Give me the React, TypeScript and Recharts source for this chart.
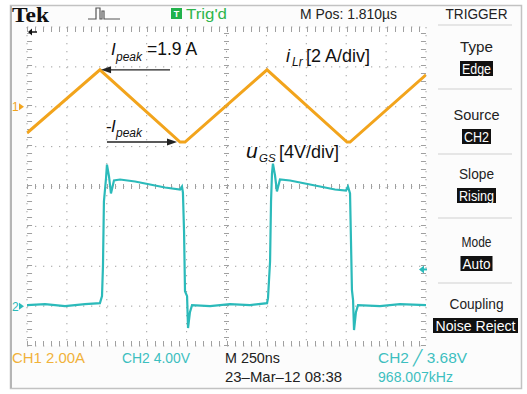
import React from 'react';
import { LineChart, Line, XAxis, YAxis, CartesianGrid, ReferenceLine } from 'recharts';

// ---- scope settings ----
const TIME_DOMAIN: [number, number] = [0, 2500]; // ns, 250 ns/div, 10 div
const CH1_DOMAIN: [number, number] = [-12, 4]; // A, 2 A/div
const CH2_DOMAIN: [number, number] = [-4, 28]; // V, 4 V/div
const CH2_TRIGGER_LEVEL = 3.68; // V

// ---- CH1: resonant inductor current iLr (A) ----
const iLrTime = [0, 457, 959, 990, 1504, 2005, 2024, 2500];
const iLrAmp = [-1.32, 1.85, -1.77, -1.77, 1.85, -1.77, -1.77, 1.6];

// ---- CH2: gate-source voltage uGS (V) ----
const uGsTime = [
  0, 113, 238, 363, 457, 470, 476, 482, 495, 501, 514, 526, 545, 583, 677, 771, 865, 959, 971,
  977, 984, 990, 1003, 1009, 1021, 1034, 1147, 1272, 1397, 1504, 1510, 1523, 1529, 1535, 1541,
  1554, 1566, 1585, 1648, 1742, 1836, 1930, 1999, 2011, 2024, 2030, 2036, 2043, 2049, 2061, 2074,
  2212, 2337, 2500,
];
const uGsVolt = [
  0.1, 0.2, 0.0, 0.2, 0.3, 1.0, 4.0, 10.5, 12.8, 14.2, 13.0, 11.3, 12.6, 12.7, 12.5, 12.2, 11.9,
  11.7, 12.0, 11.4, 7.5, 1.5, 1.0, -2.2, -0.6, 0.1, 0.0, 0.2, 0.1, 0.3, 0.8, 4.5, 10.5, 13.3, 14.3,
  13.1, 11.5, 12.7, 12.6, 12.3, 12.0, 11.7, 11.6, 12.0, 11.3, 6.5, 1.6, 0.6, -2.4, -0.6, 0.1, 0.0,
  0.2, 0.1,
];

// ---- annotation anchors (data units) ----
const IPEAK_ARROW_T: [number, number] = [896, 464];
const IPEAK_LEVEL = 1.85;
const NEG_IPEAK_ARROW_T: [number, number] = [501, 940];
const NEG_IPEAK_LEVEL = -1.77;

const ILR = iLrTime.map((t, i) => ({ t, v: iLrAmp[i] }));
const UGS = uGsTime.map((t, i) => ({ t, v: uGsVolt[i] }));

const W = 527;
const H = 394;
const ORANGE = '#F2A41C';
const CYAN = '#2BBABA';
const ORANGE_TXT = '#F1B23A';
const CYAN_TXT = '#3DBFC0';
const GRID = '#a0a0a0';
const SEP = '#cfcfcf';
const MONO = "'Liberation Sans Narrow', 'Liberation Sans', Arial, sans-serif";
const SANS = "'Liberation Sans', Arial, sans-serif";

const Arrow = (p: any) => {
  const { x1, y1, x2, y2 } = p;
  const dir = x2 >= x1 ? 1 : -1;
  return (
    <g>
      <line x1={x1} y1={y1} x2={x2 - dir * 6} y2={y2} stroke="#222" strokeWidth={1.4} />
      <polygon
        points={`${x2},${y2} ${x2 - dir * 10},${y2 - 3.5} ${x2 - dir * 10},${y2 + 3.5}`}
        fill="#222"
      />
    </g>
  );
};

const groundMarker = (label: string, color: string) => (p: any) => {
  const { x1, y1 } = p;
  return (
    <g>
      <text x={x1 - 15} y={y1 + 4.5} fill={color} fontSize={12} fontFamily={SANS}>
        {label}
      </text>
      <polygon points={`${x1 - 3},${y1} ${x1 - 8},${y1 - 3.5} ${x1 - 8},${y1 + 3.5}`} fill={color} />
    </g>
  );
};

const TriggerMarker = (p: any) => {
  const { x2, y1 } = p;
  return (
    <g>
      <line x1={x2 - 3} y1={y1} x2={x2 + 1} y2={y1} stroke={CYAN} strokeWidth={2} />
      <polygon points={`${x2 - 7},${y1} ${x2 - 2},${y1 - 4} ${x2 - 2},${y1 + 4}`} fill={CYAN} />
    </g>
  );
};

const TEXT_NONE = 'none';

function PanelItem({ title, value, y, boxW, titleW, valueW }: any) {
  const cx = 476.5;
  return (
    <g>
      <text x={cx} y={y} textAnchor="middle" fontSize={15} fontFamily={MONO} fill="#222"
        textLength={titleW} lengthAdjust="spacingAndGlyphs">{title}</text>
      <rect x={cx - boxW / 2} y={y + 9} width={boxW} height={15} fill="#111" />
      <text x={cx} y={y + 21.5} textAnchor="middle" fontSize={14} fontFamily={MONO} fill="#fff"
        textLength={valueW} lengthAdjust="spacingAndGlyphs">{value}</text>
    </g>
  );
}

export default function App() {
  return (
    <div style={{ position: 'fixed', left: 0, top: 0, width: W, height: H, background: '#fff' }}>
      <svg width={W} height={H} style={{ position: 'absolute', left: 0, top: 0 }}>
        <rect x={10.5} y={5.5} width={511} height={383} fill="#fcfcfc" stroke="#c2c2c2" strokeWidth={1.5} />
        <line x1={11} y1={6} x2={11} y2={388} stroke="#b5b5b5" strokeWidth={2} />
        <rect x={27} y={27} width={399} height={319} fill="#fff" />
        {/* header */}
        <text x={12} y={22} fontFamily="'Liberation Serif', 'DejaVu Serif', serif" fontWeight="bold"
          fontSize={21} fill="#111" textLength={37} lengthAdjust="spacingAndGlyphs">Tek</text>
        <path d="M88 19 H96 V8 H100 V19 H102 V11 H104 V19 H120" fill="none" stroke="#555" strokeWidth={1.2} />
        <rect x={171} y={8} width={11} height={11} fill="#22B24C" />
        <text x={176.5} y={17} textAnchor="middle" fontSize={9} fontWeight="bold" fill="#fff" fontFamily={SANS}>T</text>
        <text x={186} y={19} fontSize={15} fill="#2FB54C" fontFamily={MONO} textLength={41} lengthAdjust="spacingAndGlyphs">Trig'd</text>
        <text x={300} y={19} fontSize={14} fill="#222" fontFamily={MONO} textLength={97} lengthAdjust="spacingAndGlyphs">M Pos: 1.810µs</text>
        <text x={476.5} y={19} textAnchor="middle" fontSize={14} fill="#222" fontFamily={MONO} textLength={62} lengthAdjust="spacingAndGlyphs">TRIGGER</text>
        {/* right panel */}
        {[25, 89, 154, 218, 283].map((y) => (
          <line key={y} x1={438} x2={512} y1={y} y2={y} stroke={SEP} strokeWidth={1.2} />
        ))}
        <PanelItem title="Type" value="Edge" y={52} boxW={33} titleW={33} valueW={29} />
        <PanelItem title="Source" value="CH2" y={120} boxW={29} titleW={46} valueW={25} />
        <PanelItem title="Slope" value="Rising" y={179} boxW={39} titleW={35} valueW={35} />
        <PanelItem title="Mode" value="Auto" y={247} boxW={32} titleW={30} valueW={28} />
        <text x={476.5} y={309} textAnchor="middle" fontSize={15} fontFamily={MONO} fill="#222"
          textLength={54} lengthAdjust="spacingAndGlyphs">Coupling</text>
        <rect x={433} y={318} width={85} height={15} fill="#111" />
        <text x={475.5} y={330.5} textAnchor="middle" fontSize={14} fontFamily={MONO} fill="#fff"
          textLength={80} lengthAdjust="spacingAndGlyphs">Noise Reject</text>
        {/* footer */}
        <text x={12} y={363} fontSize={15} fill={ORANGE_TXT} fontFamily={MONO} textLength={73} lengthAdjust="spacingAndGlyphs">CH1  2.00A</text>
        <text x={122} y={363} fontSize={15} fill={CYAN_TXT} fontFamily={MONO} textLength={68} lengthAdjust="spacingAndGlyphs">CH2  4.00V</text>
        <text x={225} y={363} fontSize={15} fill="#222" fontFamily={MONO} textLength={55} lengthAdjust="spacingAndGlyphs">M 250ns</text>
        <text x={225} y={382} fontSize={15} fill="#222" fontFamily={MONO} textLength={117} lengthAdjust="spacingAndGlyphs">23–Mar–12 08:38</text>
        <text x={378} y={363} fontSize={15} fill={CYAN_TXT} fontFamily={MONO} textLength={89} lengthAdjust="spacingAndGlyphs">CH2 ╱ 3.68V</text>
        <text x={378} y={382} fontSize={15} fill={CYAN_TXT} fontFamily={MONO} textLength={75} lengthAdjust="spacingAndGlyphs">968.007kHz</text>
      </svg>

      <div style={{ position: 'absolute', left: 0, top: 0 }}>
        <LineChart width={W} height={H} margin={{ top: 27, right: 101, bottom: 48, left: 27 }}>
          <XAxis type="number" dataKey="t" domain={TIME_DOMAIN} allowDataOverflow hide />
          <YAxis yAxisId="i" type="number" domain={CH1_DOMAIN} allowDataOverflow hide />
          <YAxis yAxisId="u" type="number" domain={CH2_DOMAIN} allowDataOverflow hide />
          <CartesianGrid
            yAxisId="u"
            stroke={GRID}
            strokeDasharray="1.3 6.7"
            horizontalCoordinatesGenerator={({ offset }: any) =>
              Array.from({ length: 9 }, (_, k) => offset.top + (k * offset.height) / 8)
            }
            verticalCoordinatesGenerator={({ offset }: any) =>
              Array.from({ length: 11 }, (_, k) => offset.left + (k * offset.width) / 10)
            }
          />
          {/* centre graticule minor ticks */}
          <ReferenceLine yAxisId="u" x={1250} stroke={GRID} strokeWidth={5} strokeDasharray="1 7" />
          <ReferenceLine yAxisId="u" y={12} stroke={GRID} strokeWidth={5} strokeDasharray="1 7" />
          {/* edge minor ticks */}
          <ReferenceLine yAxisId="u" x={16} stroke={GRID} strokeWidth={5} strokeDasharray="1 7" />
          <ReferenceLine yAxisId="u" x={2484} stroke={GRID} strokeWidth={5} strokeDasharray="1 7" />
          <ReferenceLine yAxisId="u" y={27.75} stroke={GRID} strokeWidth={5} strokeDasharray="1 7" />
          <ReferenceLine yAxisId="u" y={-3.75} stroke={GRID} strokeWidth={5} strokeDasharray="1 7" />

          <Line yAxisId="i" data={ILR} dataKey="v" type="linear" stroke={ORANGE} strokeWidth={3}
            dot={false} isAnimationActive={false} />
          <Line yAxisId="u" data={UGS} dataKey="v" type="linear" stroke={CYAN} strokeWidth={2.2}
            dot={false} isAnimationActive={false} />

          <ReferenceLine yAxisId="i" y={0} stroke="none" shape={groundMarker('1', ORANGE)} />
          <ReferenceLine yAxisId="u" y={0} stroke="none" shape={groundMarker('2', CYAN)} />
          <ReferenceLine yAxisId="u" y={CH2_TRIGGER_LEVEL} stroke="none" shape={TriggerMarker} />
          <ReferenceLine yAxisId="i"
            segment={[{ x: IPEAK_ARROW_T[0], y: IPEAK_LEVEL }, { x: IPEAK_ARROW_T[1], y: IPEAK_LEVEL }]}
            shape={Arrow} />
          <ReferenceLine yAxisId="i"
            segment={[{ x: NEG_IPEAK_ARROW_T[0], y: NEG_IPEAK_LEVEL }, { x: NEG_IPEAK_ARROW_T[1], y: NEG_IPEAK_LEVEL }]}
            shape={Arrow} />
        </LineChart>
      </div>

      <svg width={W} height={H} style={{ position: 'absolute', left: 0, top: 0, pointerEvents: TEXT_NONE }}>
        {/* trigger position indicator */}
        <line x1={30} y1={32} x2={37} y2={32} stroke="#111" strokeWidth={1.5} />
        <polygon points="28,32 32,28.5 32,35.5" fill="#111" />
        <g fontFamily={SANS} fill="#111">
          <text x={111} y={55} fontSize={17} fontStyle="italic">I</text>
          <text x={116} y={61} fontSize={12} fontStyle="italic">peak</text>
          <text x={147} y={55} fontSize={17.5}>=1.9 A</text>

          <text x={106} y={132} fontSize={17}>-</text>
          <text x={111} y={132} fontSize={17} fontStyle="italic">I</text>
          <text x={116} y={137} fontSize={12} fontStyle="italic">peak</text>

          <text x={286} y={62} fontSize={18} fontStyle="italic">i</text>
          <text x={292} y={66} fontSize={12} fontStyle="italic">Lr</text>
          <text x={306} y={62} fontSize={18}>[2 A/div]</text>

          <text x={246} y={158} fontSize={21} fontStyle="italic">u</text>
          <text x={259} y={162} fontSize={11.5} fontStyle="italic">GS</text>
          <text x={279} y={158} fontSize={18}>[4V/div]</text>
        </g>
      </svg>
    </div>
  );
}
